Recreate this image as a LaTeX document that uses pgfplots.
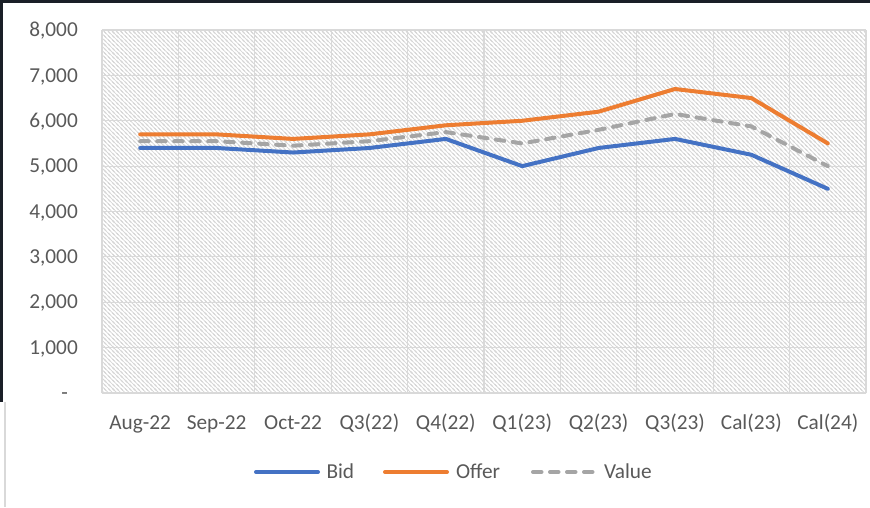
\documentclass[border=0pt]{standalone}
\usepackage{fontspec}
\setmainfont{Carlito}
\usepackage{pgfplots}
\pgfplotsset{compat=1.18}
\usetikzlibrary{patterns}
\definecolor{bidc}{HTML}{4472C4}
\definecolor{offc}{HTML}{ED7D31}
\definecolor{valc}{HTML}{A5A5A5}
\definecolor{txt}{HTML}{595959}
\definecolor{gridc}{HTML}{D9D9D9}
\definecolor{hatchc}{HTML}{D6D6D6}
\definecolor{darkc}{HTML}{1A1F27}
\pgfdeclarepatternformonly{hatchnw}{\pgfqpoint{-1pt}{-1pt}}{\pgfqpoint{5.2pt}{5.2pt}}{\pgfqpoint{4.2pt}{4.2pt}}{%
 \pgfsetlinewidth{0.75pt}%
 \pgfpathmoveto{\pgfqpoint{-1pt}{5.2pt}}\pgfpathlineto{\pgfqpoint{5.2pt}{-1pt}}%
 \pgfpathmoveto{\pgfqpoint{-1pt}{1pt}}\pgfpathlineto{\pgfqpoint{1pt}{-1pt}}%
 \pgfpathmoveto{\pgfqpoint{3.2pt}{5.2pt}}\pgfpathlineto{\pgfqpoint{5.2pt}{3.2pt}}%
 \pgfusepath{stroke}}
\begin{document}
\begin{tikzpicture}
\useasboundingbox (-102pt,-114pt) rectangle (768pt,393pt);
\fill[darkc] (-102pt,390pt) rectangle (768pt,393pt);
\fill[darkc] (-102pt,-9pt) rectangle (-99pt,393pt);
\draw[gridc, line width=1.2pt] (-97pt,-9pt) -- (-97pt,-114pt);
\begin{axis}[
  at={(0,0)}, anchor=south west,
  scale only axis, width=764pt, height=363pt,
  xmin=-0.5, xmax=9.5, ymin=0, ymax=8000,
  xtick={0,...,9},
  xticklabels={Aug-22,Sep-22,Oct-22,Q3(22),Q4(22),Q1(23),Q2(23),Q3(23),Cal(23),Cal(24)},
  minor xtick={-0.5,0.5,...,9.5},
  ytick={0,1000,...,8000},
  yticklabels={{-\hspace*{10pt}},{1,000},{2,000},{3,000},{4,000},{5,000},{6,000},{7,000},{8,000}},
  extra y ticks={0}, extra y tick labels={},
  extra y tick style={grid style={draw=gridc, line width=1.8pt}},
  xminorgrids=true, xmajorgrids=false, ymajorgrids=true,
  grid style={draw=gridc, line width=1.2pt},
  minor grid style={draw=gridc, line width=1.2pt},
  axis line style={draw=none},
  tick style={draw=none}, major tick length=0pt, minor tick length=0pt,
  axis background/.style={pattern=hatchnw, pattern color=hatchc},
  /pgf/number format/assume math mode=true,
  tick label style={font=\fontsize{21.3}{25}\selectfont, text=txt, inner sep=0pt},
  yticklabel style={anchor=base east, xshift=-24pt, yshift=-6.7pt},
  xticklabel style={anchor=base, yshift=-36pt},
  legend columns=3,
  legend style={draw=none, fill=none, inner sep=0pt, column sep=0pt,
    at={(0.4627,-0.2176)}, anchor=center,
    cells={anchor=west}, nodes={inner sep=0pt},
    font=\fontsize{21.3}{25}\selectfont, text=txt},
  legend image code/.code={\draw[#1, line cap=round] (0pt,0pt) -- (62pt,0pt);},
]
\addplot[bidc, line width=4pt, line join=round, line cap=round] coordinates {
 (0,5400) (1,5400) (2,5300) (3,5400) (4,5600) (5,5000) (6,5400) (7,5600) (8,5250) (9,4500)};
\addlegendentry{\makebox[63pt][l]{\hspace*{6.5pt}Bid}}
\addplot[offc, line width=4pt, line join=round, line cap=round] coordinates {
 (0,5700) (1,5700) (2,5600) (3,5700) (4,5900) (5,6000) (6,6200) (7,6700) (8,6500) (9,5500)};
\addlegendentry{\makebox[82pt][l]{\hspace*{7pt}Offer}}
\addplot[valc, line width=4pt, line join=round, line cap=round, dash pattern=on 8.5pt off 8.5pt] coordinates {
 (0,5550) (1,5550) (2,5450) (3,5550) (4,5750) (5,5500) (6,5800) (7,6150) (8,5875) (9,5000)};
\addlegendentry{\makebox[60pt][l]{\hspace*{7pt}Value}}
\end{axis}
\end{tikzpicture}
\end{document}
